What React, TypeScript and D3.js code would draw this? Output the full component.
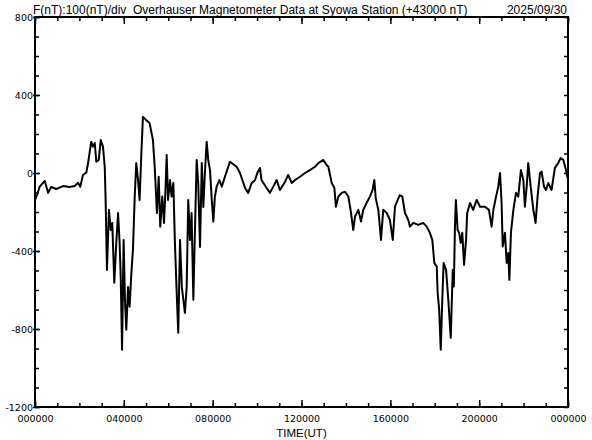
import React, { useEffect, useRef } from 'react';
import * as d3 from 'd3';

// Syowa Station total field F, offset by 43000 nT
const hours = [
  0, 0.09, 0.21, 0.32, 0.44, 0.59, 0.73, 0.96, 1.26, 1.56, 1.79, 1.94, 2.04, 2.16, 2.31, 2.39, 2.53, 2.61, 2.69, 2.76,
  2.87, 2.96, 3.06, 3.14, 3.18, 3.24, 3.33, 3.41, 3.48, 3.57, 3.66, 3.74, 3.81, 3.86, 3.92, 3.99, 4.05, 4.11, 4.19, 4.26,
  4.34, 4.41, 4.49, 4.56, 4.64, 4.71, 4.79, 4.86, 5.01, 5.16, 5.31, 5.39, 5.49, 5.57, 5.64, 5.73, 5.81, 5.88, 5.93, 5.99,
  6.08, 6.15, 6.23, 6.30, 6.38, 6.45, 6.53, 6.61, 6.68, 6.75, 6.83, 6.90, 6.98, 7.05, 7.13, 7.20, 7.28, 7.35, 7.43, 7.51,
  7.58, 7.65, 7.73, 7.80, 7.88, 7.96, 8.03, 8.10, 8.18, 8.30, 8.41, 8.55, 8.78, 9.08, 9.23, 9.46, 9.60, 9.76, 9.91, 10.01,
  10.13, 10.20, 10.43, 10.58, 10.73, 10.88, 11.03, 11.26, 11.40, 11.56, 11.71, 11.93, 12.16, 12.38, 12.61, 12.76, 12.98, 13.13, 13.21, 13.36,
  13.48, 13.55, 13.66, 13.81, 13.96, 14.11, 14.21, 14.33, 14.41, 14.56, 14.68, 14.78, 14.93, 15.08, 15.20, 15.28, 15.34, 15.46, 15.58, 15.68,
  15.84, 15.98, 16.11, 16.21, 16.33, 16.43, 16.54, 16.66, 16.81, 16.88, 17.03, 17.26, 17.48, 17.64, 17.78, 17.89, 17.98, 18.09, 18.13, 18.20,
  18.27, 18.34, 18.40, 18.51, 18.61, 18.72, 18.81, 18.86, 18.91, 18.95, 19.03, 19.10, 19.17, 19.24, 19.32, 19.41, 19.46, 19.59, 19.73, 19.89,
  20.04, 20.26, 20.44, 20.56, 20.64, 20.76, 20.86, 20.94, 21.01, 21.06, 21.16, 21.24, 21.31, 21.36, 21.43, 21.54, 21.66, 21.76, 21.88, 21.99,
  22.06, 22.14, 22.21, 22.32, 22.44, 22.54, 22.63, 22.74, 22.81, 22.92, 23.01, 23.11, 23.26, 23.41, 23.56, 23.67, 23.79, 23.91, 23.98,
];

const fieldNT = [
  -138, -113, -70, -56, -41, -101, -72, -82, -67, -72, -67, -50, -70, -10, 2, 51, 160, 135, 154, 58,
  67, 169, 135, 32, -138, -497, -189, -292, -256, -563, -358, -205, -358, -532, -906, -343, -650, -804, -584, -686,
  -512, -394, -123, 51, -36, -138, 102, 288, 271, 256, 169, 32, -205, -19, -275, -121, -256, -70, 92, -138,
  -36, -121, -51, -358, -614, -819, -343, -584, -650, -717, -584, -138, -343, -205, -650, -307, 67, -51, -379, 51,
  -174, 0, 160, 67, 15, -138, -249, -121, -70, -36, -70, -19, 58, 32, 0, -77, -102, -51, -36, 0,
  26, -36, -77, -102, -70, -36, -87, -45, -10, -51, -36, -19, 0, 15, 32, 51, 67, 41, 32, -51,
  -77, -173, -121, -102, -96, -121, -189, -292, -224, -189, -249, -189, -154, -121, -87, -36, -128, -189, -343, -189,
  -205, -241, -343, -173, -138, -113, -121, -205, -241, -275, -256, -266, -256, -275, -307, -343, -461, -480, -614, -701,
  -906, -650, -461, -497, -650, -845, -497, -582, -275, -138, -292, -307, -358, -307, -471, -343, -205, -154, -189, -138,
  -173, -173, -189, -275, -189, -121, -70, 0, -154, -377, -307, -461, -410, -548, -307, -189, -102, -121, 15, -36,
  -173, -70, 51, -70, -189, -256, -121, 0, 7, -70, -87, -51, -87, 26, 51, 77, 67, 15, -26,
];

const yMajorTicks = [800, 400, 0, -400, -800, -1200];
const xMajorTicks = [0, 4, 8, 12, 16, 20, 24];
const xTickLabels = ['000000', '040000', '080000', '120000', '160000', '200000', '000000'];
const titleText = 'F(nT):100(nT)/div  Overhauser Magnetometer Data at Syowa Station (+43000 nT)';
const dateText = '2025/09/30';
const xAxisTitle = 'TIME(UT)';

const App = () => {
  const svgRef = useRef<SVGSVGElement>(null);

  useEffect(() => {
    const width = 592;
    const height = 440;
    const left = 35, right = 568, top = 17, bottom = 407;

    const svg = d3.select(svgRef.current);
    svg.selectAll('*').remove();
    svg.attr('width', width).attr('height', height);

    svg.append('rect').attr('width', width).attr('height', height).attr('fill', '#fff');

    const x = d3.scaleLinear().domain([0, 24]).range([left, right]);
    const y = d3.scaleLinear().domain([-1200, 800]).range([bottom, top]);

    const labelFont = 'DejaVu Sans, sans-serif';
    const textFont = 'Liberation Sans, Arial, sans-serif';

    const hourTicks = d3.range(0, 25, 1);
    const nTTicks = d3.range(-1200, 801, 100);

    const styleAxis = (g: any) => {
      g.select('.domain').remove();
      g.selectAll('.tick line').attr('stroke', '#000').attr('stroke-width', 1.5);
      g.selectAll('text').attr('fill', '#000');
    };

    // minor ticks, all four sides, pointing inward
    svg.append('g').attr('transform', `translate(${left},0)`)
      .call(d3.axisLeft(y).tickValues(nTTicks).tickSize(-4).tickFormat(() => ''))
      .call(styleAxis);
    svg.append('g').attr('transform', `translate(${right},0)`)
      .call(d3.axisRight(y).tickValues(nTTicks).tickSize(-4).tickFormat(() => ''))
      .call(styleAxis);
    svg.append('g').attr('transform', `translate(0,${bottom})`)
      .call(d3.axisBottom(x).tickValues(hourTicks).tickSize(-4).tickFormat(() => ''))
      .call(styleAxis);
    svg.append('g').attr('transform', `translate(0,${top})`)
      .call(d3.axisTop(x).tickValues(hourTicks).tickSize(-4).tickFormat(() => ''))
      .call(styleAxis);

    // major ticks
    svg.append('g').attr('transform', `translate(0,${bottom})`)
      .call(d3.axisBottom(x).tickValues(xMajorTicks).tickSize(-7).tickFormat(() => ''))
      .call(styleAxis);
    svg.append('g').attr('transform', `translate(0,${top})`)
      .call(d3.axisTop(x).tickValues(xMajorTicks).tickSize(-7).tickFormat(() => ''))
      .call(styleAxis);
    svg.append('g').attr('transform', `translate(${left},0)`)
      .call(d3.axisLeft(y).tickValues(yMajorTicks).tickSize(-5).tickFormat(() => ''))
      .call(styleAxis);

    // y labels with short outward stubs
    svg.append('g').attr('transform', `translate(${left},0)`)
      .call(d3.axisLeft(y).tickValues(yMajorTicks).tickSizeInner(2).tickSizeOuter(0).tickPadding(0)
        .tickFormat(d => String(d)))
      .call(styleAxis)
      .attr('font-family', labelFont)
      .attr('font-size', 9.5);

    // x labels
    svg.append('g').attr('transform', `translate(0,${bottom})`)
      .call(d3.axisBottom(x).tickValues(xMajorTicks).tickSize(0).tickPadding(8)
        .tickFormat((d, i) => xTickLabels[i]))
      .call(styleAxis)
      .attr('font-family', labelFont)
      .attr('font-size', 9.5);

    // data trace
    const line = d3.line<number>()
      .x((d, i) => x(hours[i]))
      .y(d => y(d));

    svg.append('path')
      .datum(fieldNT)
      .attr('d', line)
      .attr('fill', 'none')
      .attr('stroke', '#000')
      .attr('stroke-width', 2)
      .attr('stroke-linejoin', 'round');

    // frame
    svg.append('rect')
      .attr('x', left)
      .attr('y', top)
      .attr('width', right - left)
      .attr('height', bottom - top)
      .attr('fill', 'none')
      .attr('stroke', '#000')
      .attr('stroke-width', 2);

    svg.append('text')
      .attr('x', left - 2)
      .attr('y', 14)
      .attr('font-family', textFont)
      .attr('font-size', 12)
      .style('white-space', 'pre')
      .text(titleText);

    svg.append('text')
      .attr('x', right - 1)
      .attr('y', 14)
      .attr('text-anchor', 'end')
      .attr('font-family', textFont)
      .attr('font-size', 12)
      .text(dateText);

    svg.append('text')
      .attr('x', (left + right) / 2)
      .attr('y', 437)
      .attr('text-anchor', 'middle')
      .attr('font-family', textFont)
      .attr('font-size', 11.5)
      .text(xAxisTitle);
  }, []);

  return (
    <svg ref={svgRef} style={{ position: 'absolute', left: 0, top: 0, display: 'block' }} />
  );
};

export default App;
